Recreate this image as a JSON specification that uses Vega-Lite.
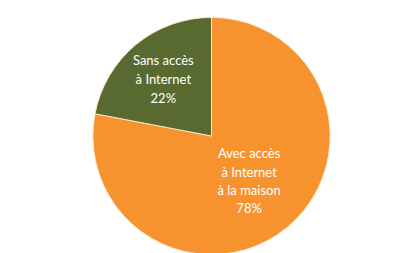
{
  "$schema": "https://vega.github.io/schema/vega-lite/v6.json",
  "width": 401,
  "height": 253,
  "autosize": {"type": "fit", "contains": "padding"},
  "padding": {"left": 22, "right": 0, "top": 19, "bottom": 0},
  "background": "white",
  "config": {"view": {"stroke": null}},
  "data": {
    "values": [
      {"category": "Avec accès à Internet à la maison", "value": 78, "label": ["Avec accès", "à Internet", "à la maison", "78%"]},
      {"category": "Sans accès à Internet", "value": 22, "label": ["Sans accès", "à Internet", "22%"]}
    ]
  },
  "encoding": {
    "theta": {"field": "value", "type": "quantitative", "stack": true},
    "order": {"field": "category", "type": "nominal"}
  },
  "layer": [
    {
      "mark": {"type": "arc", "outerRadius": 118.6, "stroke": "#fbe3c4", "strokeWidth": 1},
      "encoding": {
        "color": {
          "field": "category",
          "type": "nominal",
          "scale": {"domain": ["Avec accès à Internet à la maison", "Sans accès à Internet"], "range": ["#F7932F", "#586A2F"]},
          "legend": null
        }
      }
    },
    {
      "mark": {"type": "text", "radius": 74, "dx": -1, "dy": -18, "font": "Lato", "fontSize": 13, "lineHeight": 18.8, "color": "white", "align": "center", "baseline": "middle"},
      "encoding": {
        "text": {"condition": {"test": "datum.value === 22", "field": "label"}, "value": ""}
      }
    },
    {
      "mark": {"type": "text", "radius": 59, "dy": -27, "font": "Lato", "fontSize": 13, "lineHeight": 18.3, "color": "white", "align": "center", "baseline": "middle"},
      "encoding": {
        "text": {"condition": {"test": "datum.value === 78", "field": "label"}, "value": ""}
      }
    }
  ]
}
